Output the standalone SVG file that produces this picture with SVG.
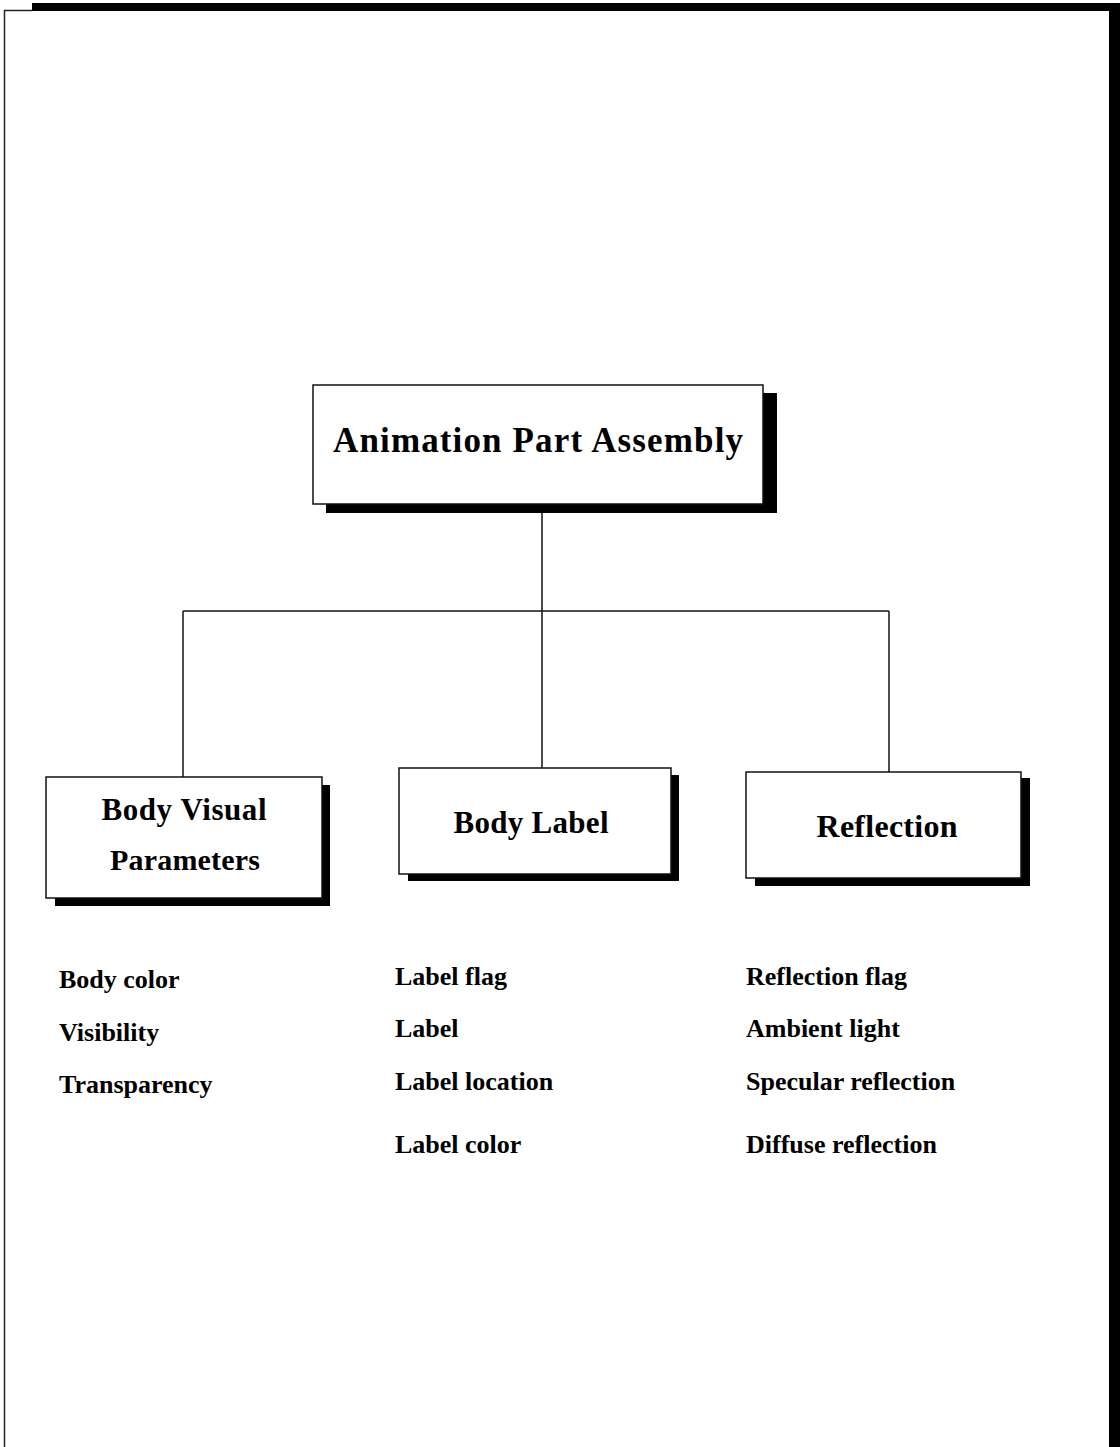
<svg xmlns="http://www.w3.org/2000/svg" width="1120" height="1447" viewBox="0 0 1120 1447" style="overflow:hidden">
<style>
.shadow{fill:#000}
.box{fill:#fff;stroke:#111;stroke-width:1.5}
.title{font-family:"Liberation Serif","Times New Roman",serif;font-weight:bold;fill:#000;text-anchor:middle}
.item{font-family:"Liberation Serif","Times New Roman",serif;font-weight:bold;font-size:26px;fill:#000}
.conn{stroke:#111;stroke-width:1.5;fill:none}
</style>
<rect x="0" y="0" width="1120" height="1447" fill="#fff"/>
<g id="frame">
<rect x="32" y="3" width="1088" height="8" fill="#000"/>
<rect x="1109" y="3" width="11" height="1444" fill="#000"/>
<path d="M4.5,1447 V10.5 H32" fill="none" stroke="#222" stroke-width="1.5"/>
</g>
<g id="connectors">
<path class="conn" d="M542,504 V611"/>
<path class="conn" d="M183,611 H889"/>
<path class="conn" d="M183,611 V777"/>
<path class="conn" d="M542,611 V768"/>
<path class="conn" d="M889,611 V772"/>
</g>
<g id="node-root">
<rect class="shadow" x="326" y="393" width="451" height="120"/>
<rect class="box" x="313" y="385" width="450" height="119"/>
<text class="title" x="538" y="452" font-size="35" textLength="410" lengthAdjust="spacing">Animation Part Assembly</text>
</g>
<g id="node-body-visual">
<rect class="shadow" x="55" y="785" width="275" height="121"/>
<rect class="box" x="46" y="777" width="276" height="121"/>
<text class="title" x="184" y="820" font-size="31" textLength="165" lengthAdjust="spacing">Body Visual</text>
<text class="title" x="185" y="870" font-size="30" textLength="150" lengthAdjust="spacing">Parameters</text>
</g>
<g id="node-body-label">
<rect class="shadow" x="408" y="775" width="271" height="106"/>
<rect class="box" x="399" y="768" width="272" height="106"/>
<text class="title" x="531" y="833" font-size="31" textLength="155" lengthAdjust="spacing">Body Label</text>
</g>
<g id="node-reflection">
<rect class="shadow" x="755" y="778" width="275" height="108"/>
<rect class="box" x="746" y="772" width="275" height="106"/>
<text class="title" x="887" y="837" font-size="32" textLength="141" lengthAdjust="spacing">Reflection</text>
</g>
<g id="list-body-visual">
<text class="item" x="59" y="988">Body color</text>
<text class="item" x="59" y="1041">Visibility</text>
<text class="item" x="59" y="1093">Transparency</text>
</g>
<g id="list-body-label">
<text class="item" x="395" y="985">Label flag</text>
<text class="item" x="395" y="1037">Label</text>
<text class="item" x="395" y="1090">Label location</text>
<text class="item" x="395" y="1153">Label color</text>
</g>
<g id="list-reflection">
<text class="item" x="746" y="985">Reflection flag</text>
<text class="item" x="746" y="1037">Ambient light</text>
<text class="item" x="746" y="1090">Specular reflection</text>
<text class="item" x="746" y="1153">Diffuse reflection</text>
</g>
</svg>
